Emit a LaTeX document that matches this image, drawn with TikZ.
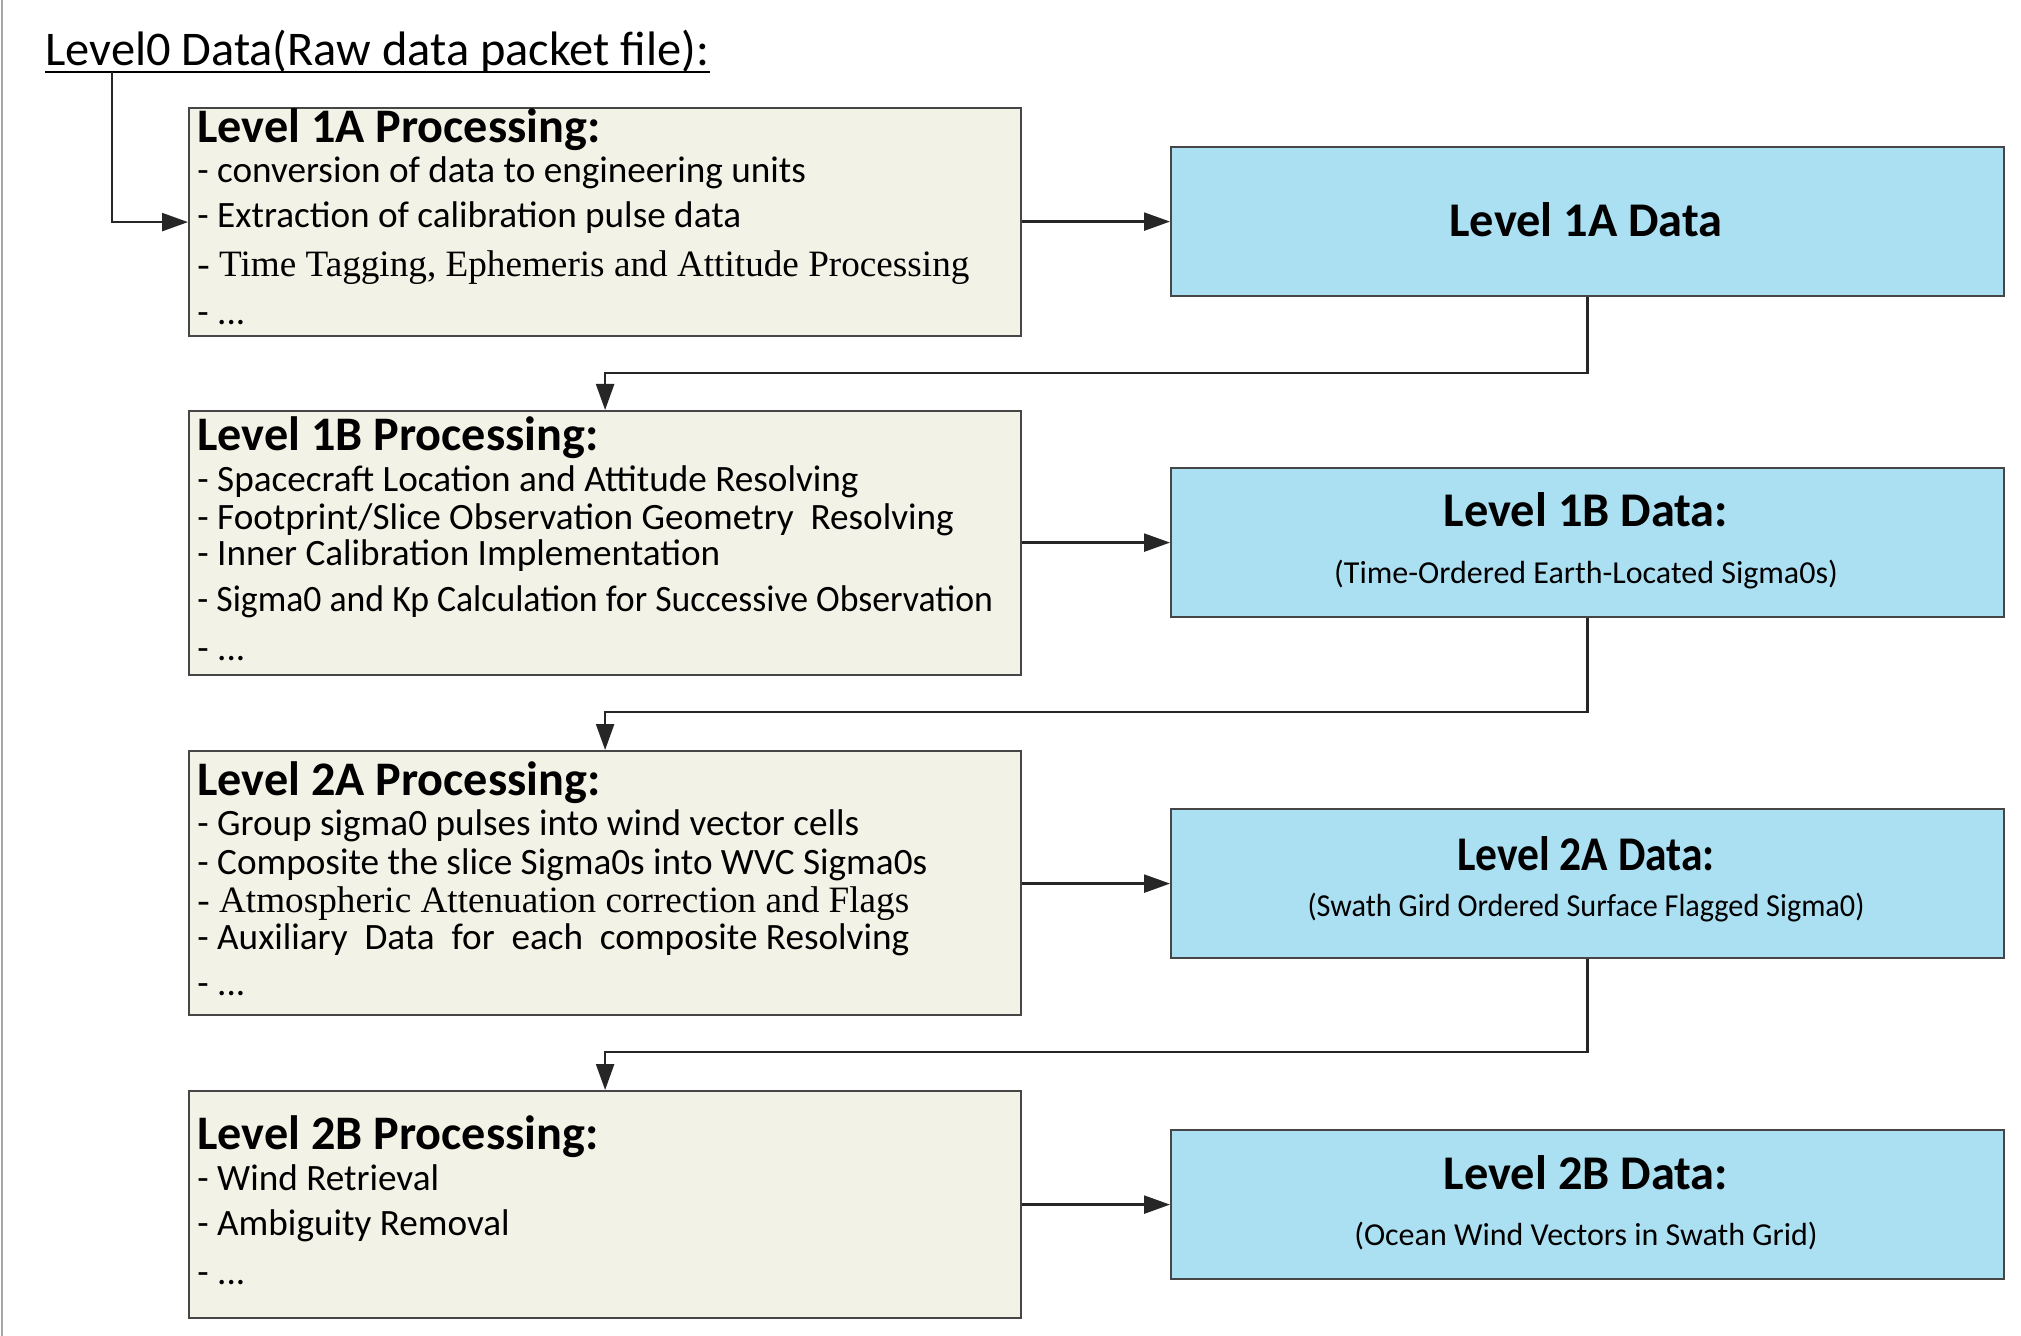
\documentclass[tikz,border=0pt]{standalone}
\usepackage{fontspec}
\setmainfont{Carlito}
\newfontfamily\tnr{Liberation Serif}
\usetikzlibrary{arrows.meta}
\definecolor{pfill}{RGB}{242,242,230}
\definecolor{dfill}{RGB}{171,223,242}
\definecolor{bord}{RGB}{70,70,70}
\begin{document}
\begin{tikzpicture}[x=0.5pt,y=-0.5pt,
 pbox/.style={draw=bord, line width=1.1pt, fill=pfill, minimum width=416pt, anchor=north west, inner sep=0pt},
 dbox/.style={draw=bord, line width=1.1pt, fill=dfill, minimum width=416.5pt, minimum height=74.5pt, anchor=north west, inner sep=0pt},
 ptitle/.style={anchor=base west, inner sep=0pt, font=\fontsize{24.1}{27}\selectfont\bfseries},
 pline/.style={anchor=base west, inner sep=0pt, font=\fontsize{18.6}{21}\selectfont},
 dtitle/.style={anchor=base, inner sep=0pt, font=\fontsize{24.2}{27}\selectfont\bfseries},
 dsub/.style={anchor=base, inner sep=0pt, font=\fontsize{16}{18}\selectfont},
 conn/.style={line width=1.2pt, draw=black!85, -{Triangle[length=13pt,width=9pt]}}
]
\fill[white] (0,0) rectangle (2021,1336);
\useasboundingbox (0,0) rectangle (2021,1336);
\draw[gray!70, line width=1pt] (1.5,0) -- (1.5,1336);

% Level 0 heading
\node[anchor=base west, inner sep=0pt, font=\fontsize{24.2}{28}\selectfont] (lvl0) at (45,65.5) {Level0 Data(Raw data packet file):};
\draw[line width=1pt] ([yshift=-3.5pt]lvl0.base west) -- ([yshift=-3.5pt]lvl0.base east);
\coordinate (s0) at (112,72.5);

% Processing boxes
\node[pbox, minimum height=114pt] (p1a) at (188,107) {};
\node[pbox, minimum height=132pt] (p1b) at (188,410) {};
\node[pbox, minimum height=132pt] (p2a) at (188,750) {};
\node[pbox, minimum height=113.5pt] (p2b) at (188,1090) {};

% Data boxes
\node[dbox] (d1a) at (1170,146) {};
\node[dbox] (d1b) at (1170,467) {};
\node[dbox] (d2a) at (1170,808) {};
\node[dbox] (d2b) at (1170,1129) {};

% Level 1A processing text
\node[ptitle] (t1a) at (197,143) {Level 1A Processing:};
\node[pline] (t1a1) at (197,182.5) {- conversion of data to engineering units};
\node[pline] (t1a2) at (197,228) {- Extraction of calibration pulse data};
\node[pline] (t1a3) at (197,276.5) {\tnr - Time Tagging, Ephemeris and Attitude Processing};
\node[pline] (t1a4) at (197,324.5) {- ...};

% Level 1B processing text
\node[ptitle] (t1b) at (197,450.5) {Level 1B Processing:};
\node[pline] (t1b1) at (197,491) {- Spacecraft Location and Attitude Resolving};
\node[pline] (t1b2) at (197,529) {- Footprint/Slice Observation Geometry~ Resolving};
\node[pline] (t1b3) at (197,565) {- Inner Calibration Implementation};
\node[pline] (t1b4) at (197,611) {\scalebox{0.96}[1]{- Sigma0 and Kp Calculation for Successive Observation}};
\node[pline] (t1b5) at (197,660) {- ...};

% Level 2A processing text
\node[ptitle] (t2a) at (197,795.5) {Level 2A Processing:};
\node[pline] (t2a1) at (197,835) {- Group sigma0 pulses into wind vector cells};
\node[pline] (t2a2) at (197,874) {- Composite the slice Sigma0s into WVC Sigma0s};
\node[pline] (t2a3) at (197,912) {\tnr - Atmospheric Attenuation correction and Flags};
\node[pline] (t2a4) at (197,949) {- Auxiliary~ Data~ for~ each~ composite Resolving};
\node[pline] (t2a5) at (197,995) {- ...};

% Level 2B processing text
\node[ptitle] (t2b) at (197,1149.5) {Level 2B Processing:};
\node[pline] (t2b1) at (197,1190) {- Wind Retrieval};
\node[pline] (t2b2) at (197,1235) {- Ambiguity Removal};
\node[pline] (t2b3) at (197,1284) {- ...};

% Data box texts
\node[dtitle] (e1a) at (1586,236.5) {Level 1A Data};
\node[dtitle] (e1b) at (1586,526) {Level 1B Data:};
\node[dsub] (f1b) at (1586,583) {(Time-Ordered Earth-Located Sigma0s)};
\node[dtitle] (e2a) at (1586,870) {\scalebox{0.9}[1]{Level 2A Data:}};
\node[dsub] (f2a) at (1586,916) {\scalebox{0.945}[1]{(Swath Gird Ordered Surface Flagged Sigma0)}};
\node[dtitle] (e2b) at (1586,1189) {Level 2B Data:};
\node[dsub] (f2b) at (1586,1245) {(Ocean Wind Vectors in Swath Grid)};

% Connectors
\coordinate (m1) at (0,373);
\coordinate (m2) at (0,712);
\coordinate (m3) at (0,1052);
\draw[conn] (s0) |- (p1a.west);
\draw[conn] (p1a.east |- d1a.west) -- (d1a.west);
\draw[conn] (p1b.east |- d1b.west) -- (d1b.west);
\draw[conn] (p2a.east |- d2a.west) -- (d2a.west);
\draw[conn] (p2b.east |- d2b.west) -- (d2b.west);
\draw[conn] (d1a.south) -- (d1a.south |- m1) -| (p1b.north);
\draw[conn] (d1b.south) -- (d1b.south |- m2) -| (p2a.north);
\draw[conn] (d2a.south) -- (d2a.south |- m3) -| (p2b.north);
\end{tikzpicture}
\end{document}
